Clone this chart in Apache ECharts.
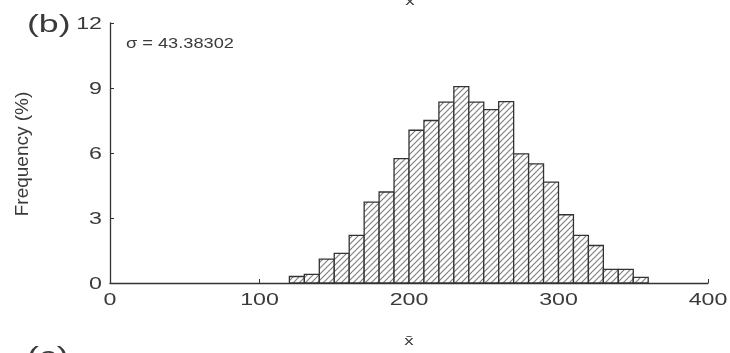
<!DOCTYPE html>
<html><head><meta charset="utf-8">
<script src="https://cdn.jsdelivr.net/npm/echarts@6/dist/echarts.min.js"></script>
<style>html,body{margin:0;padding:0;background:#fff}#c{width:730px;height:353px}</style>
</head><body><div id="c"></div>
<script>
var binStarts = [120,130,140,150,160,170,180,190,200,210,220,230,240,250,260,270,280,290,300,310,320,330,340,350];
var binWidth = 10;
var freqs = [0.3,0.4,1.1,1.37,2.2,3.73,4.2,5.74,7.05,7.5,8.35,9.06,8.35,8.0,8.37,5.96,5.5,4.66,3.15,2.2,1.73,0.63,0.63,0.26];
var xTicks = [0,100,200,300,400];
var yTicks = [0,3,6,9,12];
var yTitle = 'Frequency (%)';
var sigmaText = 'σ = 43.38302';
var panelLabel = '(b)';
var nextPanelLabel = '(c)';
var xTitle = 'x̄';

function hatch(){
  var c = document.createElement('canvas'); c.width = 6; c.height = 6;
  var g = c.getContext('2d');
  g.fillStyle = '#fff'; g.fillRect(0,0,6,6);
  g.strokeStyle = '#808080'; g.lineWidth = 1.2;
  g.beginPath();
  g.moveTo(-1,7); g.lineTo(7,-1);
  g.moveTo(-4,4); g.lineTo(4,-4);
  g.moveTo(2,10); g.lineTo(10,2);
  g.stroke();
  return c;
}
var pat = {image: hatch(), repeat: 'repeat'};

var chart = echarts.init(document.getElementById('c'));
var font = 'Liberation Sans, Arial, sans-serif';
var txtColor = '#3a3a3a';
var SX = 1.45;
chart.setOption({
  animation: false,
  grid: {left: 110, right: 22, top: 23, bottom: 70},
  xAxis: {
    type: 'value', min: 0, max: 400, interval: 100,
    axisLine: {lineStyle: {color: '#333', width: 1.3}},
    axisTick: {inside: true, length: 4, lineStyle: {color: '#333'}},
    axisLabel: {show: false},
    splitLine: {show: false}
  },
  yAxis: {
    type: 'value', min: 0, max: 12, interval: 3,
    axisLine: {show: true, lineStyle: {color: '#333', width: 1.3}},
    axisTick: {show: true, inside: true, length: 4, lineStyle: {color: '#333'}},
    axisLabel: {show: false},
    splitLine: {show: false}
  },
  series: [{
    type: 'custom',
    data: binStarts.map(function(s, i){ return [s, s + binWidth, freqs[i]]; }),
    encode: {x: [0,1], y: 2},
    renderItem: function(params, api){
      var p0 = api.coord([api.value(0), api.value(2)]);
      var p1 = api.coord([api.value(1), 0]);
      return {
        type: 'rect',
        shape: {x: p0[0], y: p0[1], width: p1[0] - p0[0], height: p1[1] - p0[1]},
        style: {fill: pat, stroke: '#333', lineWidth: 1.3}
      };
    }
  }]
});

var g = [];
xTicks.forEach(function(v){
  var p = chart.convertToPixel({gridIndex: 0}, [v, 0]);
  g.push({type: 'text', x: p[0], y: p[1] + 18, scaleX: SX,
    style: {text: String(v), fontSize: 16, fontFamily: font, fill: txtColor, align: 'center', verticalAlign: 'middle'}});
});
yTicks.forEach(function(v){
  var p = chart.convertToPixel({gridIndex: 0}, [0, v]);
  g.push({type: 'text', x: p[0] - 8, y: p[1] + 1.5, scaleX: SX,
    style: {text: String(v), fontSize: 16, fontFamily: font, fill: txtColor, align: 'right', verticalAlign: 'middle'}});
});
g.push({type: 'text', x: 23, y: 154, rotation: Math.PI / 2, scaleY: 1.0,
  style: {text: yTitle, fontSize: 19, fontFamily: font, fill: txtColor, align: 'center', verticalAlign: 'middle'}});
g.push({type: 'text', x: 27, y: 26, scaleX: 1.55,
  style: {text: panelLabel, fontSize: 23, fontFamily: font, fill: txtColor, align: 'left', verticalAlign: 'middle'}});
g.push({type: 'text', x: 126, y: 44, scaleX: 1.3,
  style: {text: sigmaText, fontSize: 14, fontFamily: font, fill: txtColor, align: 'left', verticalAlign: 'middle'}});
g.push({type: 'text', x: 410, y: 1, scaleX: SX,
  style: {text: xTitle, fontSize: 13, fontFamily: font, fill: txtColor, align: 'center', verticalAlign: 'middle'}});
g.push({type: 'text', x: 409, y: 341, scaleX: SX,
  style: {text: xTitle, fontSize: 13, fontFamily: font, fill: txtColor, align: 'center', verticalAlign: 'middle'}});
g.push({type: 'text', x: 27, y: 358, scaleX: 1.55,
  style: {text: nextPanelLabel, fontSize: 23, fontFamily: font, fill: txtColor, align: 'left', verticalAlign: 'middle'}});
chart.setOption({graphic: g});
</script></body></html>
